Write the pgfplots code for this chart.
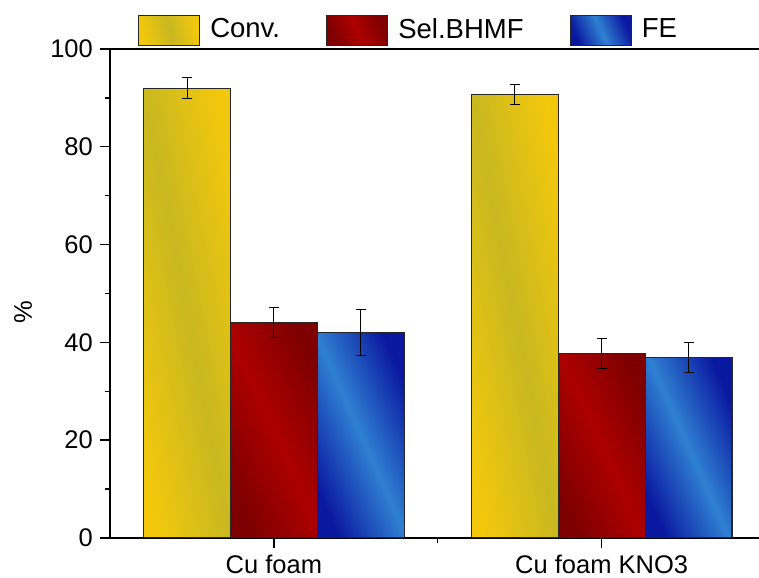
\documentclass[border=0pt]{standalone}
\usepackage{fontspec}
\setmainfont{Liberation Sans}
\usepackage{pgfplots}
\pgfplotsset{compat=1.18}
\definecolor{convA}{HTML}{F3C80C}
\definecolor{convB}{HTML}{C9B820}
\definecolor{selA}{HTML}{7E0000}
\definecolor{selB}{HTML}{AC0000}
\definecolor{feA}{HTML}{0A18A0}
\definecolor{feB}{HTML}{2F80D2}

% one plot per bar, so that each bar gets its own shading box;
% bars sit at their real x (group centre -0.265 / 0 / +0.265)
\pgfplotsset{
  barbase/.style={ybar, bar shift=0pt, draw=black!85, line width=1.2bp},
  conv/.style={barbase, left color=convA, right color=convA, middle color=convB, shading angle=101},
  sel/.style={barbase, left color=selA, right color=selA, middle color=selB, shading angle=114},
  fe/.style={barbase, left color=feA, right color=feA, middle color=feB, shading angle=114},
}

\begin{document}
\fontsize{25.5bp}{30bp}\selectfont
\begin{tikzpicture}
\begin{axis}[
 scale only axis, width=649bp, height=489bp,
 xmin=0.5, xmax=2.48, ymin=0, ymax=100,
 axis x line*=box, axis y line*=left,
 axis line style={-, line width=1.6bp},
 bar width=0.265,
 xtick={1,2}, xticklabels={Cu foam, Cu foam KNO3}, minor xtick={1.5},
 xtick pos=bottom,
 xticklabel style={inner sep=1bp, yshift=-6bp},
 ytick={0,20,...,100}, minor ytick={10,30,...,90},
 yticklabel style={xshift=1.5bp},
 tick align=outside, major tick length=10bp, minor tick length=5bp,
 tick style={line width=1.4bp, black},
 /pgf/number format/assume math mode=true,
 ylabel={\%},
 ylabel style={at={(axis description cs:-0.134,0.462)}, anchor=center},
 legend style={draw=none, fill=none, at={(axis description cs:0.043,1)},
   anchor=south west, yshift=3bp, inner sep=0pt,
   font=\fontsize{27.5bp}{32bp}\selectfont,
   nodes={inner sep=0pt},
   /tikz/every odd column/.append style={column sep=10bp},
   /tikz/every even column/.append style={column sep=46bp}},
 legend columns=-1, legend cell align=left,
 legend image code/.code={\draw[#1, line width=1.2bp] (0bp,-15bp) rectangle (61bp,15bp);},
 error bars/y dir=both, error bars/y explicit,
 error bars/error bar style={black, line width=1bp},
 error bars/error mark options={rotate=90, mark size=5bp, black, line width=1bp},
]
\coordinate (o) at (rel axis cs:0,0);
\addplot[conv] coordinates {(0.735,92.0) +- (0,2.1)};
\addplot[sel] coordinates {(1,44.1) +- (0,3.0)};
\addplot[fe] coordinates {(1.265,42.1) +- (0,4.7)};
\addplot[conv, forget plot] coordinates {(1.735,90.7) +- (0,2.05)};
\addplot[sel, forget plot] coordinates {(2,37.8) +- (0,3.05)};
\addplot[fe, forget plot] coordinates {(2.265,36.9) +- (0,3.0)};
\legend{Conv., Sel.BHMF, FE}
\end{axis}
\pgfresetboundingbox
\path ([shift={(-110bp,-40bp)}]o) rectangle ([shift={(649bp,538bp)}]o);
\end{tikzpicture}
\end{document}
